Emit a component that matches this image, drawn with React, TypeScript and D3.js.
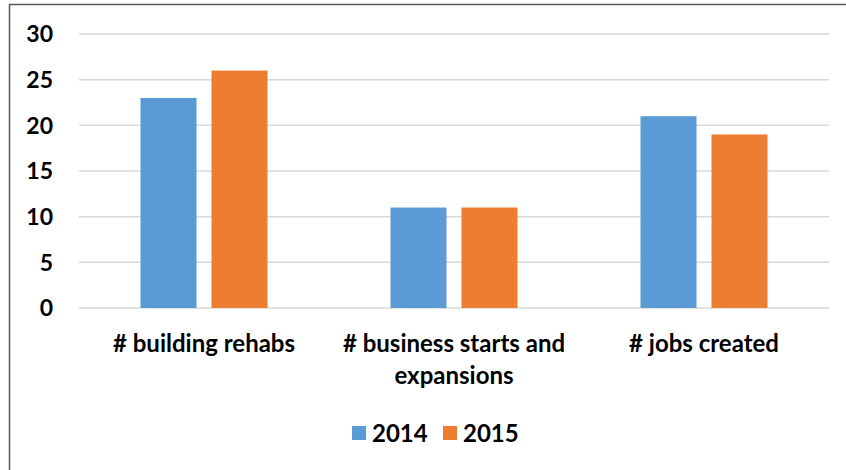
import React from "react";
import * as d3 from "d3";

const categories = ["# building rehabs", "# business starts and|expansions", "# jobs created"];
const seriesNames = ["2014", "2015"];
const values2014 = [23, 11, 21];
const values2015 = [26, 11, 19];
const yTicks = [0, 5, 10, 15, 20, 25, 30];
const colors = ["#5B9BD5", "#ED7D31"];

export default function App() {
  const W = 846, H = 470;
  const left = 79, right = 829, top = 34, bottom = 308;
  const x = d3.scaleBand<string>().domain(categories).range([left, right]);
  const y = d3.scaleLinear().domain([0, 30]).range([bottom, top]);
  const inner = d3.scaleBand<string>().domain(seriesNames).range([61.5, x.bandwidth() - 61.5]).paddingInner(0.211).paddingOuter(0);
  const series = [values2014, values2015];
  const font = "Lato, 'Open Sans', sans-serif";
  return (
    <svg width={W} height={H} style={{ position: "absolute", left: 0, top: 0, background: "#fff" }} fontFamily={font}>
      <rect x={9.5} y={4.5} width={W + 10} height={H + 10} fill="#fff" stroke="#595959" strokeWidth={1.5} />
      {yTicks.map((t) => (
        <g key={t}>
          <line x1={left} x2={right} y1={y(t)} y2={y(t)} stroke="#D9D9D9" strokeWidth={1.5} />
          <text x={53} y={y(t)} dy="0.36em" textAnchor="end" fontSize={23} fontWeight="bold" fill="#000">{t}</text>
        </g>
      ))}
      {categories.map((c, ci) =>
        seriesNames.map((s, si) => (
          <rect key={c + s} x={x(c)! + inner(s)!} width={inner.bandwidth()} y={y(series[si][ci])} height={y(0) - y(series[si][ci])} fill={colors[si]} />
        ))
      )}
      {categories.map((c) => {
        const lines = c.split("|");
        return (
          <text key={c} x={x(c)! + x.bandwidth() / 2} y={352} textAnchor="middle" fontSize={24} fontWeight="bold" fill="#000">
            {lines.map((l, i) => (
              <tspan key={i} x={x(c)! + x.bandwidth() / 2} dy={i === 0 ? 0 : 32}>{l}</tspan>
            ))}
          </text>
        );
      })}
      {seriesNames.map((s, i) => (
        <g key={s} transform={`translate(${352 + i * 91},0)`}>
          <rect x={0} y={426} width={14} height={14} fill={colors[i]} />
          <text x={20} y={442} fontSize={24} fontWeight="bold" fill="#000">{s}</text>
        </g>
      ))}
    </svg>
  );
}
